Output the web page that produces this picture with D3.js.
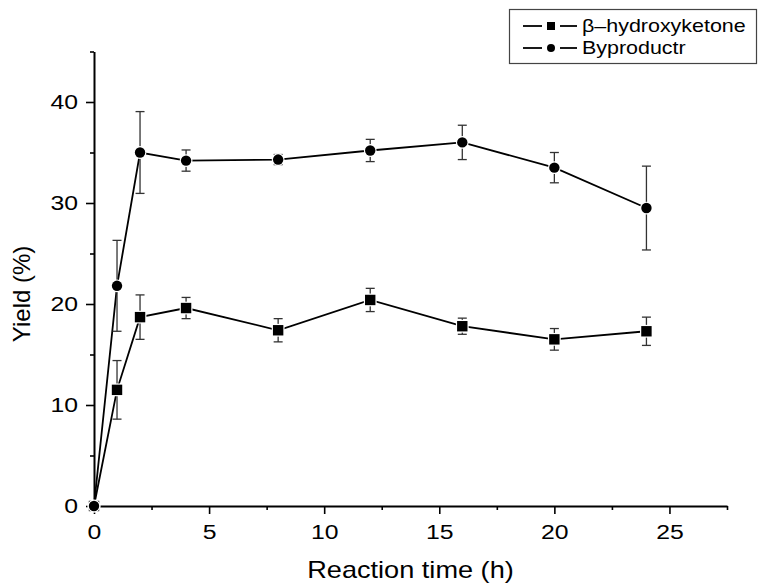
<!DOCTYPE html>
<html>
<head>
<meta charset="utf-8">
<script src="https://cdn.jsdelivr.net/npm/d3@7"></script>
<style>
  body { margin: 0; background: #fff; }
  text { font-family: "Liberation Sans", Arial, sans-serif; fill: #000; }
  .sx  { transform-box: fill-box; transform-origin: center; transform: scaleX(1.18); }
  .sxr { transform-box: fill-box; transform-origin: right center; transform: scaleX(1.18); }
  .sxl { transform-box: fill-box; transform-origin: left center; transform: scaleX(1.16); }
</style>
</head>
<body>
<div id="chart"></div>
<script>
// reaction time (h) and yields (%)
var hours = [0, 1, 2, 4, 8, 12, 16, 20, 24];
var ketone = [0, 11.5, 18.7, 19.6, 17.4, 20.4, 17.8, 16.5, 17.3];
var ketoneErr = [0, 2.9, 2.2, 1.05, 1.15, 1.15, 0.8, 1.07, 1.4];
var byproduct = [0, 21.8, 35.0, 34.2, 34.3, 35.2, 36.0, 33.5, 29.5];
var byproductErr = [0, 4.5, 4.05, 1.05, 0.5, 1.1, 1.7, 1.5, 4.15];

var xTicks = [0, 5, 10, 15, 20, 25];
var xMinor = [2.5, 7.5, 12.5, 17.5, 22.5, 27.5];
var yTicks = [0, 10, 20, 30, 40];
var yMinor = [5, 15, 25, 35, 45];

var margin = {top: 51.5, right: 37, bottom: 78, left: 94},
    width = 764 - margin.left - margin.right,
    height = 584 - margin.top - margin.bottom;

var svg = d3.select("#chart").append("svg")
    .attr("width", 764)
    .attr("height", 584)
  .append("g")
    .attr("transform", "translate(" + margin.left + "," + margin.top + ")");

var x = d3.scaleLinear().domain([0, 27.5]).range([0, width]);
var y = d3.scaleLinear().domain([0, 45]).range([height, 0]);

// axes
var xAxis = svg.append("g")
    .attr("transform", "translate(0," + height + ")")
    .call(d3.axisBottom(x).tickValues(xTicks).tickSize(8).tickSizeOuter(0).tickPadding(10));
svg.append("g")
    .attr("transform", "translate(0," + height + ")")
    .call(d3.axisBottom(x).tickValues(xMinor).tickSize(4).tickSizeOuter(0).tickFormat(""))
    .select(".domain").remove();

var yAxis = svg.append("g")
    .call(d3.axisLeft(y).tickValues(yTicks).tickSize(8).tickSizeOuter(0).tickPadding(8));
svg.append("g")
    .call(d3.axisLeft(y).tickValues(yMinor).tickSize(4).tickSizeOuter(0).tickFormat(""))
    .select(".domain").remove();

svg.selectAll(".domain").attr("stroke", "#000").attr("stroke-width", 2);
svg.selectAll(".tick line").attr("stroke", "#000").attr("stroke-width", 1.6);
xAxis.selectAll("text").attr("font-size", 21).attr("class", "sx");
yAxis.selectAll("text").attr("font-size", 21).attr("class", "sxr");

svg.append("text")
    .attr("class", "sx")
    .attr("x", width / 2)
    .attr("y", height + 72)
    .attr("text-anchor", "middle")
    .attr("font-size", 23)
    .text("Reaction time (h)");

svg.append("text")
    .attr("transform", "translate(" + (-64) + "," + (y(21)) + ") rotate(-90)")
    .attr("text-anchor", "middle")
    .attr("font-size", 24)
    .text("Yield (%)");

var series = [
  {name: "\u03b2\u2013hydroxyketone", values: ketone, err: ketoneErr, shape: "square"},
  {name: "Byproductr", values: byproduct, err: byproductErr, shape: "circle"}
];

var line = d3.line()
    .x(function(d) { return x(d[0]); })
    .y(function(d) { return y(d[1]); });

series.forEach(function(s) {
  var pts = hours.map(function(h, i) { return [h, s.values[i], s.err[i]]; });

  svg.append("path")
      .datum(pts)
      .attr("fill", "none")
      .attr("stroke", "#000")
      .attr("stroke-width", 1.8)
      .attr("d", line);

  var eb = svg.append("g").selectAll("g")
      .data(pts.filter(function(d) { return d[2] > 0; }))
      .enter().append("g")
      .attr("stroke", "#333")
      .attr("stroke-width", 1.3);
  eb.append("line")
      .attr("x1", function(d) { return x(d[0]); })
      .attr("x2", function(d) { return x(d[0]); })
      .attr("y1", function(d) { return y(d[1] - d[2]); })
      .attr("y2", function(d) { return y(d[1] + d[2]); });
  [1, -1].forEach(function(sg) {
    eb.append("line")
        .attr("x1", function(d) { return x(d[0]) - 4.5; })
        .attr("x2", function(d) { return x(d[0]) + 4.5; })
        .attr("y1", function(d) { return y(d[1] + sg * d[2]); })
        .attr("y2", function(d) { return y(d[1] + sg * d[2]); });
  });

  drawMarkers(svg, pts, s.shape, 5.2, function(d) { return x(d[0]); }, function(d) { return y(d[1]); });
});

function drawMarkers(g, data, shape, r, fx, fy) {
  var m = g.append("g").selectAll("*").data(data).enter();
  var el;
  if (shape === "circle") {
    el = m.append("circle")
        .attr("cx", fx).attr("cy", fy).attr("r", r);
  } else {
    el = m.append("rect")
        .attr("x", function(d) { return fx(d) - r; })
        .attr("y", function(d) { return fy(d) - r; })
        .attr("width", 2 * r).attr("height", 2 * r);
  }
  el.attr("fill", "#000")
    .attr("stroke", "#fff")
    .attr("stroke-width", 2.4)
    .style("paint-order", "stroke");
}

// legend (page coordinates)
var legend = d3.select("svg").append("g");
legend.append("rect")
    .attr("x", 509.5).attr("y", 9.5)
    .attr("width", 247).attr("height", 54)
    .attr("fill", "#fff")
    .attr("stroke", "#444")
    .attr("stroke-width", 1.2);

series.forEach(function(s, i) {
  var cy = 26 + i * 22;
  [[523, 542], [560, 577]].forEach(function(seg) {
    legend.append("line")
        .attr("x1", seg[0]).attr("x2", seg[1])
        .attr("y1", cy).attr("y2", cy)
        .attr("stroke", "#000").attr("stroke-width", 1.8);
  });
  drawMarkers(legend, [[551, cy]], s.shape, 4, function(d) { return d[0]; }, function(d) { return d[1]; });
  legend.append("text")
      .attr("class", "sxl")
      .attr("x", 582)
      .attr("y", cy + 6)
      .attr("font-size", 18.5)
      .text(s.name);
});
</script>
</body>
</html>
